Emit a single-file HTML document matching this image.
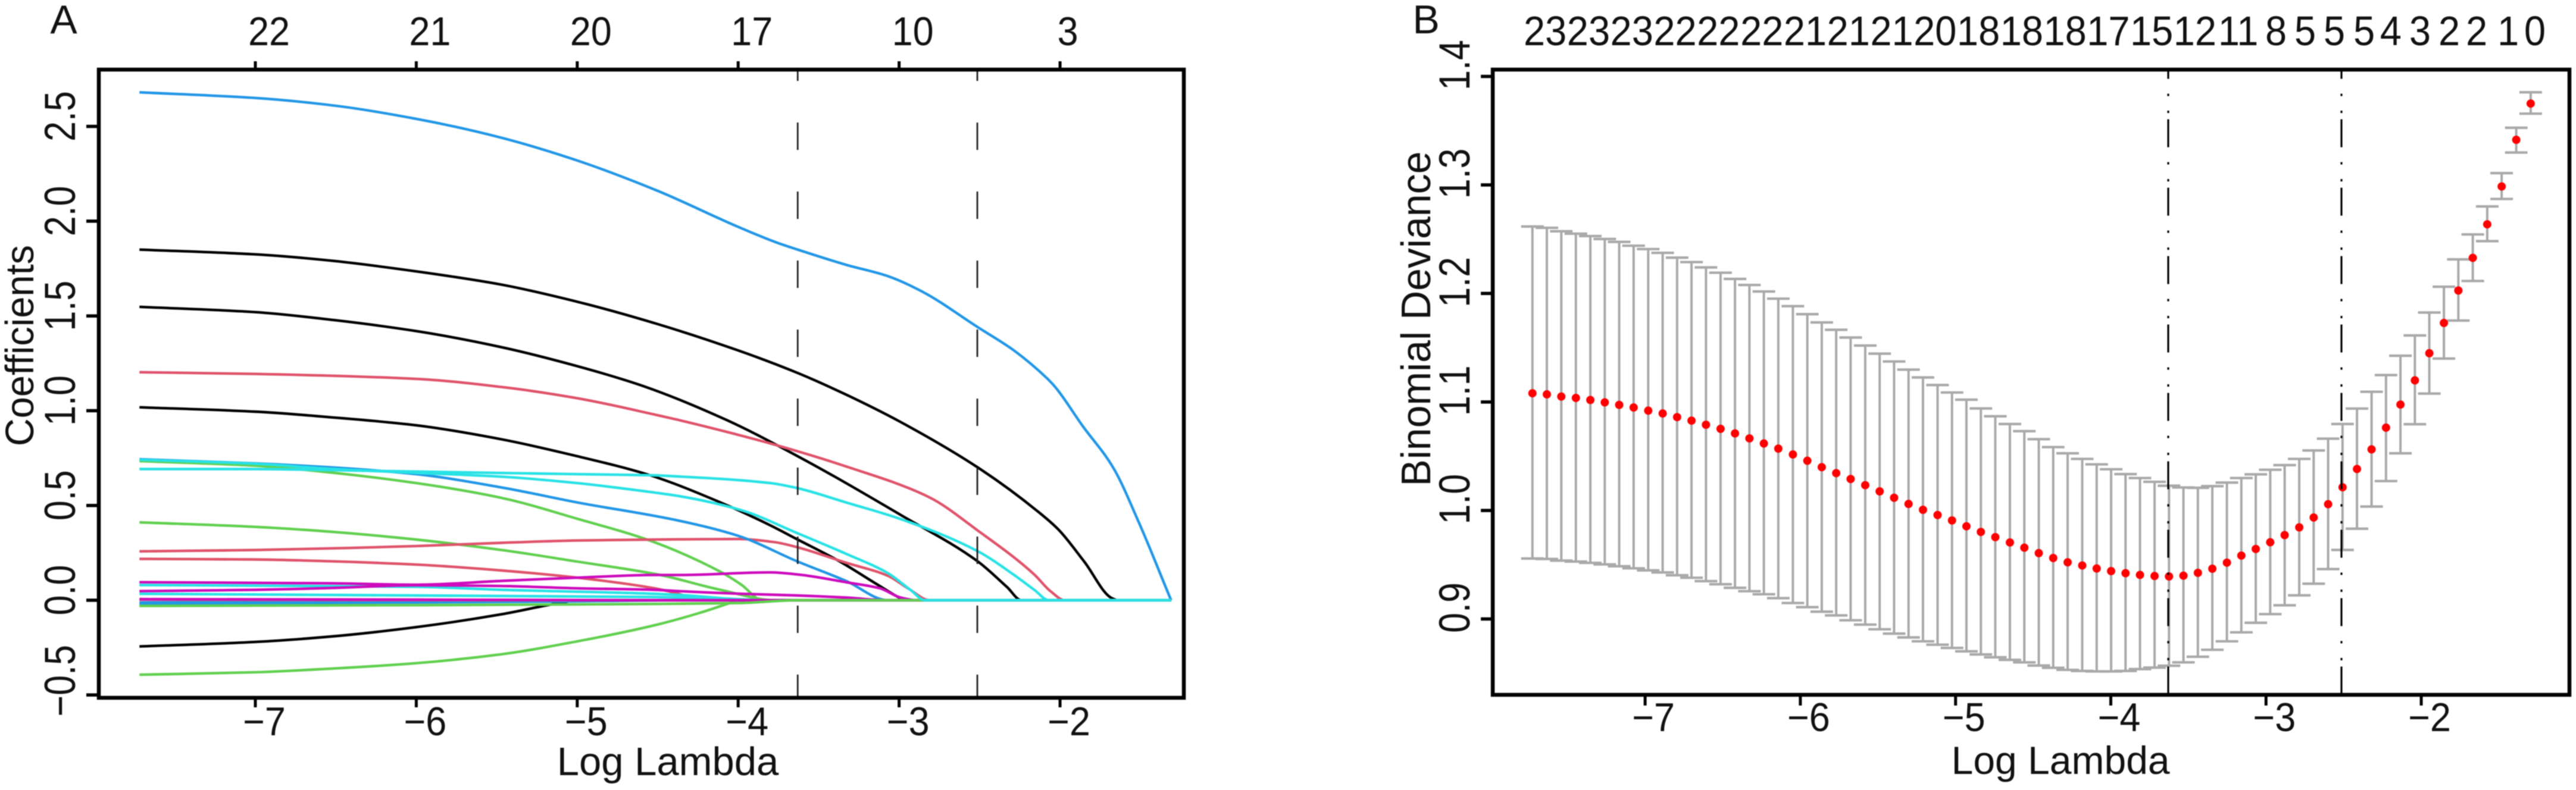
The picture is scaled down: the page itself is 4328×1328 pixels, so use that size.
<!DOCTYPE html>
<html lang="en">
<head>
<meta charset="utf-8">
<title>LASSO coefficient paths and cross-validation</title>
<style>
html,body{margin:0;padding:0;background:#fff;}
svg{display:block;filter:blur(0.7px);}
text{font-family:"Liberation Sans",Arial,sans-serif;fill:#111;}
</style>
</head>
<body>
<svg id="figure" xmlns="http://www.w3.org/2000/svg" width="4328" height="1328" viewBox="0 0 4328 1328">
  <rect x="0" y="0" width="4328" height="1328" fill="#fff"/>
  <g id="panelA">
    <text x="107" y="56" font-size="68" text-anchor="middle">A</text>
    <text transform="translate(56,581) rotate(-90) scale(1,1.03)" font-size="65" text-anchor="middle">Coefficients</text>
    <text x="1122" y="1303" font-size="67" text-anchor="middle">Log Lambda</text>
  </g>
  <g id="panelB">
    <text x="2396" y="56" font-size="68" text-anchor="middle">B</text>
    <text transform="translate(2403,536) rotate(-90) scale(1,1.03)" font-size="68" text-anchor="middle">Binomial Deviance</text>
    <text x="3462" y="1301" font-size="66" text-anchor="middle">Log Lambda</text>
  </g>
</svg>
<script>
/* ---------- Panel A data: coefficient paths as [log lambda, coefficient] ---------- */
const xTicksA = [-7, -6, -5, -4, -3, -2];
const yTicksA = [2.5, 2.0, 1.5, 1.0, 0.5, 0.0, -0.5];
const topCountsA = [22, 21, 20, 17, 10, 3];
const lambdaEndA = -1.31;
const cutLambdas = [-3.63, -2.514];

const pathBlack1 = [[-7.72,1.85],[-7,1.825],[-6.51,1.79],[-6,1.735],[-5.47,1.665],[-5,1.575],[-4.5,1.457],[-4,1.318],[-3.63,1.199],[-3.33,1.085],[-2.99,0.94],[-2.51,0.70],[-2.14,0.47],[-2.01,0.373],[-1.85,0.204],[-1.68,0.012],[-1.64,0]];
const pathBlack2 = [[-7.72,1.548],[-7,1.52],[-6.51,1.478],[-6,1.42],[-5.47,1.335],[-5,1.235],[-4.58,1.127],[-4.07,0.95],[-3.63,0.76],[-2.99,0.45],[-2.51,0.204],[-2.33,0.07],[-2.24,0]];
const pathBlack3 = [[-7.72,1.018],[-7,0.995],[-6.51,0.964],[-6,0.923],[-5.47,0.849],[-5,0.76],[-4.55,0.66],[-4.11,0.516],[-3.8,0.395],[-3.63,0.32],[-3.38,0.21],[-3.12,0.075],[-2.99,0.01],[-2.96,0]];
const pathBlack4 = [[-7.72,-0.244],[-7,-0.22],[-6.51,-0.19],[-6,-0.142],[-5.47,-0.074],[-5.19,-0.027],[-5.08,-0.01],[-5.0,0]];
const pathRed1 = [[-7.72,1.203],[-7,1.194],[-6,1.168],[-5.47,1.125],[-5,1.066],[-4.52,0.98],[-4.37,0.951],[-3.77,0.82],[-3.33,0.706],[-2.81,0.542],[-2.51,0.367],[-2.16,0.136],[-2.06,0.048],[-1.97,0]];
const pathRed2 = [[-7.72,0.258],[-7,0.265],[-6,0.286],[-5.47,0.303],[-5,0.315],[-4.52,0.32],[-4,0.323],[-3.77,0.306],[-3.63,0.279],[-3.33,0.198],[-3.07,0.129],[-2.94,0.06],[-2.81,0]];
const pathRed3 = [[-7.72,0.218],[-7,0.215],[-6.51,0.205],[-6,0.188],[-5.47,0.157],[-5,0.119],[-4.52,0.063],[-4.37,0.034],[-4.24,0]];
const pathRed4 = [[-7.72,0.003],[-6,0.001],[-5,0]];
const pathGreen1 = [[-7.72,0.734],[-7,0.71],[-6.51,0.672],[-6,0.618],[-5.47,0.54],[-5,0.43],[-4.55,0.315],[-4.11,0.15],[-3.98,0.082],[-3.85,0]];
const pathGreen2 = [[-7.72,0.411],[-7,0.387],[-6.51,0.36],[-6,0.32],[-5.47,0.265],[-5,0.204],[-4.5,0.136],[-4.11,0.055],[-3.77,0]];
const pathGreen3 = [[-7.72,-0.03],[-6,-0.026],[-5,-0.022],[-4,-0.015],[-3.63,0]];
const pathGreen4 = [[-7.72,-0.393],[-7,-0.38],[-6.51,-0.36],[-6,-0.332],[-5.47,-0.285],[-5,-0.217],[-4.5,-0.128],[-4.24,-0.067],[-4.06,-0.017],[-4.0,0]];
const pathBlue1 = [[-7.72,2.68],[-7,2.65],[-6.51,2.61],[-6,2.54],[-5.47,2.44],[-5,2.32],[-4.5,2.16],[-4,1.97],[-3.77,1.89],[-3.63,1.85],[-3.33,1.77],[-3.07,1.71],[-2.86,1.63],[-2.51,1.44],[-2.29,1.32],[-2.08,1.17],[-2.03,1.125],[-1.86,0.92],[-1.67,0.70],[-1.51,0.41],[-1.31,0]];
const pathBlue2 = [[-7.72,0.744],[-7,0.722],[-6.51,0.70],[-6,0.665],[-5.47,0.595],[-5,0.516],[-4.37,0.42],[-4,0.34],[-3.63,0.204],[-3.33,0.102],[-3.07,0]];
const pathBlue3 = [[-7.72,-0.012],[-6,-0.004],[-5,-0.002],[-4.5,0]];
const pathBlue4 = [[-7.72,-0.02],[-6,-0.012],[-5,-0.006],[-4.3,0]];
const pathMagenta1 = [[-7.72,0.095],[-6.51,0.089],[-6,0.082],[-5.47,0.102],[-5,0.119],[-4.52,0.133],[-4.37,0.133],[-3.8,0.147],[-3.63,0.136],[-3.33,0.095],[-3.12,0.063],[-2.99,0.014],[-2.89,0]];
const pathMagenta2 = [[-7.72,0.048],[-7,0.055],[-6.51,0.065],[-6,0.079],[-5.47,0.075],[-5,0.063],[-4.52,0.055],[-4.37,0.048],[-3.98,0.034],[-3.63,0.025],[-3.33,0.014],[-3.07,0]];
const pathMagenta3 = [[-7.72,0.006],[-6,0.003],[-5,0.001],[-4.5,0]];
const pathCyan3 = [[-7.72,0.08],[-6,0.071],[-5.47,0.055],[-4.52,0.034],[-4.37,0.028],[-3.85,0]];
const pathCyan4 = [[-7.72,0.034],[-6,0.025],[-4.52,0.017],[-4.11,0.01],[-3.8,0]];
const pathCyan2 = [[-7.72,0.741],[-7,0.72],[-6.51,0.692],[-6,0.672],[-5.47,0.652],[-5,0.618],[-4.52,0.568],[-4.37,0.55],[-3.98,0.475],[-3.63,0.353],[-3.33,0.245],[-3.07,0.143],[-2.93,0.055],[-2.84,0]];
const pathCyan1 = [[-7.72,0.692],[-7,0.692],[-6.51,0.686],[-6,0.679],[-5,0.665],[-4.52,0.659],[-4.37,0.653],[-3.8,0.618],[-3.63,0.591],[-3.33,0.516],[-2.99,0.428],[-2.51,0.258],[-2.29,0.136],[-2.16,0.055],[-2.07,0]];

const coefBlack = '#000000';
const coefRed = '#DF536B';
const coefGreen = '#61D04F';
const coefBlue = '#2297E6';
const coefMagenta = '#CD0BBC';
const coefCyan = '#28E2E5';

/* ---------- Panel B data: cross-validation curve ---------- */
const xTicksB = [-7, -6, -5, -4, -3, -2];
const yTicksB = [1.4, 1.3, 1.2, 1.1, 1.0, 0.9];
const topCountsB = [23,23,23,22,22,22,21,21,21,20,18,18,18,17,15,12,11,8,5,5,5,4,3,2,2,1,0];
const topLambdasB = [-7.644,-7.365,-7.086,-6.807,-6.528,-6.248,-5.969,-5.690,-5.411,-5.132,-4.853,-4.574,-4.295,-4.016,-3.737,-3.458,-3.179,-2.936,-2.748,-2.560,-2.368,-2.196,-2.008,-1.820,-1.643,-1.440,-1.268];
const logLambdaB = [-7.726,-7.633,-7.540,-7.446,-7.353,-7.260,-7.167,-7.074,-6.980,-6.887,-6.794,-6.701,-6.608,-6.514,-6.421,-6.328,-6.235,-6.142,-6.048,-5.955,-5.862,-5.769,-5.676,-5.582,-5.489,-5.396,-5.303,-5.210,-5.116,-5.023,-4.930,-4.837,-4.744,-4.650,-4.557,-4.464,-4.371,-4.278,-4.184,-4.091,-3.998,-3.905,-3.812,-3.718,-3.625,-3.532,-3.439,-3.346,-3.252,-3.159,-3.066,-2.973,-2.880,-2.786,-2.693,-2.600,-2.507,-2.414,-2.320,-2.227,-2.134,-2.041,-1.948,-1.854,-1.761,-1.668,-1.575,-1.482,-1.388,-1.295];
const devianceMean = [1.108,1.107,1.105,1.1037,1.1018,1.0996,1.0973,1.0949,1.092,1.0894,1.086,1.0828,1.079,1.0752,1.071,1.0664,1.0617,1.057,1.0516,1.0458,1.0399,1.0344,1.029,1.0233,1.0176,1.0117,1.006,1.0006,0.9958,0.9908,0.9854,0.9802,0.9754,0.9705,0.9657,0.9607,0.9562,0.9522,0.9493,0.9465,0.9441,0.9422,0.9406,0.9396,0.9392,0.9399,0.9425,0.9463,0.9519,0.9584,0.9645,0.9707,0.9773,0.9844,0.9935,1.0058,1.0214,1.0382,1.0563,1.0763,1.0976,1.1199,1.1449,1.1728,1.2027,1.2328,1.2637,1.2986,1.3416,1.375];
const devianceUpper = [1.2617,1.2605,1.2573,1.2551,1.2529,1.2502,1.2475,1.244,1.2409,1.2374,1.233,1.2289,1.224,1.2191,1.2134,1.2078,1.2018,1.1952,1.1883,1.1809,1.1733,1.1665,1.1594,1.152,1.1445,1.1373,1.1298,1.1226,1.1156,1.1087,1.1021,1.094,1.0868,1.0797,1.0731,1.0657,1.0584,1.0527,1.0475,1.0425,1.038,1.0335,1.0299,1.0264,1.0228,1.0212,1.0209,1.0224,1.0257,1.0299,1.0333,1.0375,1.0418,1.0475,1.0553,1.0662,1.0797,1.0939,1.1094,1.1248,1.1426,1.1613,1.1824,1.2062,1.2314,1.2544,1.2802,1.3109,1.3527,1.3854];
const devianceLower = [0.9557,0.9553,0.9538,0.9529,0.9517,0.9503,0.9486,0.9467,0.9448,0.9429,0.9403,0.938,0.9349,0.932,0.9287,0.9256,0.9228,0.9192,0.9147,0.9109,0.9067,0.9033,0.8988,0.8948,0.8905,0.8865,0.883,0.8794,0.8763,0.8733,0.8702,0.8673,0.8647,0.8623,0.86,0.8571,0.855,0.8531,0.8521,0.8517,0.8517,0.8521,0.8538,0.8552,0.8569,0.86,0.8652,0.8716,0.8794,0.8877,0.8965,0.9045,0.9126,0.9218,0.9325,0.946,0.9636,0.9832,1.0036,1.0271,1.0527,1.0795,1.1077,1.14,1.175,1.2115,1.2482,1.2871,1.3299,1.3657];

/* ---------- Layout and axis functions ---------- */
const frameA = {l:166, r:1989, t:117, b:1173};
const frameB = {l:2508, r:4317, t:117, b:1168};
function xA(v){ return 429 + (v + 7) * 270.4; }
function yA(v){ return 1009 - v * 318.6; }
function xB(v){ return 2764 + (v + 7) * 260.8; }
function yB(v){ return 1040.5 - (v - 0.9) * 1824; }

const NS = 'http://www.w3.org/2000/svg';
function make(parent, tag, attrs){
  const el = document.createElementNS(NS, tag);
  for (const k in attrs) { el.setAttribute(k, attrs[k]); }
  parent.appendChild(el);
  return el;
}
function minusText(v, digits){
  const s = Math.abs(v).toFixed(digits);
  return v < 0 ? '\u2212' + s : s;
}

/* Monotone cubic path through pixel points */
function monotonePath(pts){
  const n = pts.length;
  if (n < 2) { return ''; }
  const dx = [], sl = [], m = new Array(n);
  for (let i = 0; i < n - 1; i++) {
    dx.push(pts[i+1][0] - pts[i][0]);
    sl.push((pts[i+1][1] - pts[i][1]) / dx[i]);
  }
  m[0] = sl[0];
  m[n-1] = sl[n-2];
  for (let i = 1; i < n - 1; i++) {
    if (sl[i-1] * sl[i] <= 0) { m[i] = 0; }
    else {
      const w1 = 2 * dx[i] + dx[i-1], w2 = dx[i] + 2 * dx[i-1];
      m[i] = (w1 + w2) / (w1 / sl[i-1] + w2 / sl[i]);
    }
  }
  let d = 'M' + pts[0][0].toFixed(1) + ' ' + pts[0][1].toFixed(1);
  for (let i = 0; i < n - 1; i++) {
    const h = dx[i] / 3;
    d += 'C' + (pts[i][0] + h).toFixed(1) + ' ' + (pts[i][1] + m[i] * h).toFixed(1) + ' ' +
         (pts[i+1][0] - h).toFixed(1) + ' ' + (pts[i+1][1] - m[i+1] * h).toFixed(1) + ' ' +
         pts[i+1][0].toFixed(1) + ' ' + pts[i+1][1].toFixed(1);
  }
  return d;
}

/* ---------- Panel A ---------- */
const panelA = document.getElementById('panelA');

function drawCoefPath(series, color, name){
  const full = series[series.length-1][0] < lambdaEndA ? series.concat([[lambdaEndA, 0]]) : series;
  const nonFlat = full.map(function(p){ return [xA(p[0]), yA(p[1])]; });
  const path = make(panelA, 'path', {d: monotonePath(nonFlat), fill:'none', stroke:color, 'stroke-width':4.4, 'stroke-linejoin':'round'});
  
  
}

drawCoefPath(pathBlack1, coefBlack, 'coefficient-path-black-1');
drawCoefPath(pathBlack2, coefBlack, 'coefficient-path-black-2');
drawCoefPath(pathBlack3, coefBlack, 'coefficient-path-black-3');
drawCoefPath(pathBlack4, coefBlack, 'coefficient-path-black-4');
drawCoefPath(pathGreen1, coefGreen, 'coefficient-path-green-1');
drawCoefPath(pathGreen2, coefGreen, 'coefficient-path-green-2');
drawCoefPath(pathGreen4, coefGreen, 'coefficient-path-green-4');
drawCoefPath(pathRed1, coefRed, 'coefficient-path-red-1');
drawCoefPath(pathRed2, coefRed, 'coefficient-path-red-2');
drawCoefPath(pathRed3, coefRed, 'coefficient-path-red-3');
drawCoefPath(pathBlue1, coefBlue, 'coefficient-path-blue-1');
drawCoefPath(pathBlue2, coefBlue, 'coefficient-path-blue-2');
drawCoefPath(pathCyan3, coefCyan, 'coefficient-path-cyan-3');
drawCoefPath(pathCyan4, coefCyan, 'coefficient-path-cyan-4');
drawCoefPath(pathMagenta1, coefMagenta, 'coefficient-path-magenta-1');
drawCoefPath(pathMagenta2, coefMagenta, 'coefficient-path-magenta-2');
drawCoefPath(pathBlue4, coefBlue, 'coefficient-path-blue-4');
drawCoefPath(pathBlue3, coefBlue, 'coefficient-path-blue-3');
drawCoefPath(pathRed4, coefRed, 'coefficient-path-red-4');
drawCoefPath(pathMagenta3, coefMagenta, 'coefficient-path-magenta-3');
drawCoefPath(pathGreen3, coefGreen, 'coefficient-path-green-3');
drawCoefPath(pathCyan2, coefCyan, 'coefficient-path-cyan-2');
drawCoefPath(pathCyan1, coefCyan, 'coefficient-path-cyan-1');

cutLambdas.forEach(function(v, i){
  const line = make(panelA, 'line', {x1:xA(v), x2:xA(v), y1:frameA.t, y2:frameA.b, stroke:'#222', 'stroke-width':2.8, 'stroke-dasharray':'46 70', 'stroke-dashoffset':27});
  
  
});

const frameRectA = make(panelA, 'rect', {x:frameA.l, y:frameA.t, width:frameA.r-frameA.l, height:frameA.b-frameA.t, fill:'none', stroke:'#000', 'stroke-width':6.5});



xTicksA.forEach(function(v, i){
  const px = xA(v);
  const bt = make(panelA, 'line', {x1:px, x2:px, y1:frameA.b, y2:frameA.b+16, stroke:'#000', 'stroke-width':5});
  
  
  const tt = make(panelA, 'line', {x1:px, x2:px, y1:frameA.t, y2:frameA.t-14, stroke:'#000', 'stroke-width':5});
  
  
  const bl = make(panelA, 'text', {transform:'translate(' + (px+15) + ',1236) scale(1,1.07)', 'font-size':63, 'text-anchor':'middle'});
  bl.textContent = minusText(v, 0);
  
  
  const label = String(topCountsA[i]);
  const tl = make(panelA, 'text', {transform:'translate(' + (px + 3 + 10 * label.length) + ',76) scale(1,1.07)', 'font-size':63, 'text-anchor':'middle'});
  tl.textContent = label;
  
  
});

yTicksA.forEach(function(v){
  const py = yA(v);
  const t = make(panelA, 'line', {x1:frameA.l, x2:frameA.l-21, y1:py, y2:py, stroke:'#000', 'stroke-width':5.5});
  
  
  const cy = py - (v < 0 ? 24 : 17);
  const l = make(panelA, 'text', {transform:'translate(126,' + cy + ') rotate(-90) scale(1,1.2)', 'font-size':61, 'text-anchor':'middle'});
  l.textContent = minusText(v, 1);
  
  
});

/* ---------- Panel B ---------- */
const panelB = document.getElementById('panelB');
const capHalf = 19;

logLambdaB.forEach(function(v, i){
  const px = xB(v);
  const up = yB(devianceUpper[i]);
  const lo = yB(devianceLower[i]);
  const stem = make(panelB, 'line', {x1:px, x2:px, y1:up, y2:lo, stroke:'#A9A9A9', 'stroke-width':4});
  
  
  const capU = make(panelB, 'line', {x1:px-capHalf, x2:px+capHalf, y1:up, y2:up, stroke:'#A9A9A9', 'stroke-width':4.2});
  
  
  const capL = make(panelB, 'line', {x1:px-capHalf, x2:px+capHalf, y1:lo, y2:lo, stroke:'#A9A9A9', 'stroke-width':4.2});
  
  
});

logLambdaB.forEach(function(v, i){
  const dot = make(panelB, 'circle', {cx:xB(v), cy:yB(devianceMean[i]), r:7, fill:'#FF0000'});
  
  
});

cutLambdas.forEach(function(v, i){
  const line = make(panelB, 'line', {x1:xB(v), x2:xB(v), y1:frameB.t, y2:frameB.b, stroke:'#000', 'stroke-width':3.2, 'stroke-dasharray':'47 25 4 24.5 4 10.5', 'stroke-dashoffset':31.5});
  
  
});

const frameRectB = make(panelB, 'rect', {x:frameB.l, y:frameB.t, width:frameB.r-frameB.l, height:frameB.b-frameB.t, fill:'none', stroke:'#000', 'stroke-width':6.5});



xTicksB.forEach(function(v){
  const px = xB(v);
  const t = make(panelB, 'line', {x1:px, x2:px, y1:frameB.b, y2:frameB.b+18, stroke:'#000', 'stroke-width':5});
  
  
  const l = make(panelB, 'text', {transform:'translate(' + (px+14) + ',1229) scale(1,1.07)', 'font-size':63, 'text-anchor':'middle'});
  l.textContent = minusText(v, 0);
  
  
});

yTicksB.forEach(function(v){
  const py = yB(v);
  const t = make(panelB, 'line', {x1:frameB.l, x2:frameB.l-20, y1:py, y2:py, stroke:'#000', 'stroke-width':5.5});
  
  
  const l = make(panelB, 'text', {transform:'translate(2469,' + (py-19) + ') rotate(-90) scale(1,1.2)', 'font-size':61, 'text-anchor':'middle'});
  l.textContent = v.toFixed(1);
  
  
});

topCountsB.forEach(function(c, i){
  const l = make(panelB, 'text', {transform:'translate(' + xB(topLambdasB[i]) + ',76) scale(1,1.07)', 'font-size':65, 'text-anchor':'middle'});
  l.textContent = String(c);
  
  
});
</script>
</body>
</html>
